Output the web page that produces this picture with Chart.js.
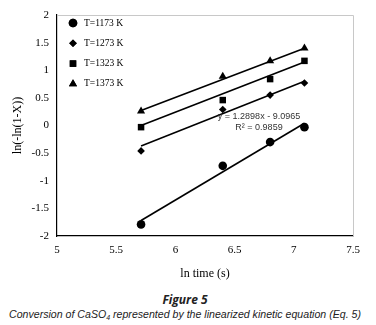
<!DOCTYPE html>
<html>
<head>
<meta charset="utf-8">
<script src="https://cdn.jsdelivr.net/npm/chart.js@4.4.0/dist/chart.umd.min.js"></script>
<style>
    body { margin: 0; background: #fff; width: 376px; height: 325px; overflow: hidden; }
    #wrap { position: relative; width: 376px; height: 285px; }
    .cap1 { position: absolute; top: 291px; left: 0; width: 370px; text-align: center; font-family: "Open Sans", sans-serif; font-style: italic; font-weight: bold; font-size: 12px; color: #222; }
    .cap2 { position: absolute; top: 308px; left: 0; width: 370px; text-align: center; font-family: "Liberation Sans", sans-serif; font-style: italic; font-size: 10.6px; color: #222; white-space: nowrap; }
    .cap2 sub { font-size: 7px; vertical-align: -2px; }
</style>
</head>
<body>
<div id="wrap"><canvas id="kineticChart"></canvas></div>
<div class="cap1">Figure 5</div>
<div class="cap2">Conversion of CaSO<sub>4</sub> represented by the linearized kinetic equation (Eq. 5)</div>
<script>
    // ln time (s)
    const lnTime = [5.71, 6.40, 6.80, 7.09];
    const seriesLabels = ['T=1173 K', 'T=1273 K', 'T=1323 K', 'T=1373 K'];
    const t1173 = [-1.79, -0.73, -0.30, -0.03];
    const t1273 = [-0.46, 0.29, 0.55, 0.77];
    const t1323 = [-0.03, 0.46, 0.84, 1.17];
    const t1373 = [0.26, 0.89, 1.17, 1.40];

    // trend line ends (x = 5.71 and 7.09)
    const trendX = [5.71, 7.09];
    const trend1173 = [-1.72, 0.04];
    const trend1273 = [-0.37, 0.80];
    const trend1323 = [0.0, 1.15];
    const trend1373 = [0.27, 1.40];

    const xTicks = [5, 5.5, 6, 6.5, 7, 7.5];
    const yTicks = [-2, -1.5, -1, -0.5, 0, 0.5, 1, 1.5, 2];

    const markers = ['circle', 'rectRot', 'rect', 'triangle'];
    const markerSize = [4.3, 3.8, 4.6, 4.7];

    function toPoints(xs, ys) {
        return xs.map(function (x, i) { return { x: x, y: ys[i] }; });
    }

    const pointSets = [t1173, t1273, t1323, t1373];
    const trendSets = [trend1173, trend1273, trend1323, trend1373];

    const datasets = [];
    trendSets.forEach(function (ys) {
        datasets.push({
            data: toPoints(trendX, ys),
            showLine: true,
            borderColor: '#000',
            borderWidth: 1.6,
            pointRadius: 0
        });
    });
    pointSets.forEach(function (ys, i) {
        datasets.push({
            label: seriesLabels[i],
            data: toPoints(lnTime, ys),
            showLine: false,
            pointStyle: markers[i],
            pointRadius: markerSize[i],
            backgroundColor: '#000',
            borderColor: '#000',
            borderWidth: 0
        });
    });

    // gray frame top/right, legend and the trend equation
    const extras = {
        id: 'extras',
        afterDraw: function (chart) {
            const ctx = chart.ctx;
            const a = chart.chartArea;
            ctx.save();
            ctx.strokeStyle = '#c8c8c8';
            ctx.lineWidth = 1;
            ctx.beginPath();
            ctx.moveTo(a.left, a.top + 0.5);
            ctx.lineTo(a.right + 0.5, a.top + 0.5);
            ctx.lineTo(a.right + 0.5, a.bottom);
            ctx.stroke();

            ctx.fillStyle = '#000';
            ctx.font = '9.5px "Liberation Serif"';
            ctx.textBaseline = 'middle';
            seriesLabels.forEach(function (lab, i) {
                const y = 23 + i * 20.3;
                Chart.helpers.drawPoint(ctx, {
                    pointStyle: markers[i],
                    radius: markerSize[i],
                    rotation: 0,
                    borderWidth: 0
                }, 73, y);
                ctx.fill();
                ctx.fillText(lab, 84, y);
            });

            ctx.fillStyle = '#333';
            ctx.font = '9px "Liberation Sans"';
            ctx.textAlign = 'center';
            ctx.fillText('y = 1.2898x - 9.0965', 259, 117);
            ctx.fillText('R\u00b2 = 0.9859', 259, 128);
            ctx.restore();
        }
    };

    const serif = 'Liberation Serif';
    const plainLabel = function (v) { return String(v); };

    new Chart(document.getElementById('kineticChart'), {
        type: 'scatter',
        data: { datasets: datasets },
        options: {
            responsive: true,
            maintainAspectRatio: false,
            animation: false,
            layout: { padding: { left: 7, right: 23, top: 15, bottom: 0 } },
            plugins: { legend: { display: false }, tooltip: { enabled: false } },
            scales: {
                x: {
                    min: xTicks[0],
                    max: xTicks[xTicks.length - 1],
                    afterBuildTicks: function (s) { s.ticks = xTicks.map(function (v) { return { value: v }; }); },
                    grid: { display: false, drawTicks: true, tickLength: 4 },
                    border: { color: '#000', width: 1.2 },
                    ticks: { color: '#000', font: { family: serif, size: 11 }, padding: 4, callback: plainLabel },
                    title: { display: true, text: 'ln time (s)', color: '#000', font: { family: serif, size: 12 }, padding: { top: 2 } },
                    afterFit: function (s) { s.height = 49; }
                },
                y: {
                    min: yTicks[0],
                    max: yTicks[yTicks.length - 1],
                    afterBuildTicks: function (s) { s.ticks = yTicks.map(function (v) { return { value: v }; }); },
                    grid: { display: false, tickLength: 4 },
                    border: { color: '#000', width: 1.2 },
                    ticks: { color: '#000', font: { family: serif, size: 11 }, padding: 4, callback: plainLabel },
                    title: { display: true, text: 'ln(-ln(1-X))', color: '#000', font: { family: serif, size: 12 }, padding: { bottom: 6 } },
                    afterFit: function (s) { s.width = 50; }
                }
            }
        },
        plugins: [extras]
    });
</script>
</body>
</html>
